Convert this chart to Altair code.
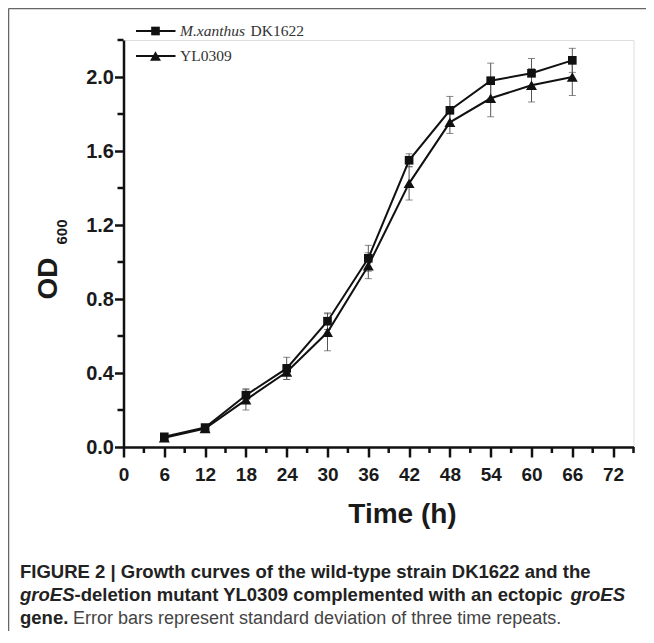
import altair as alt
import pandas as pd

# ---------------- data ----------------
hours = [6, 12, 18, 24, 30, 36, 42, 48, 54, 60, 66]
series_names = ["M.xanthus DK1622", "YL0309"]
dk1622_od = [0.055, 0.105, 0.28, 0.425, 0.68, 1.02, 1.55, 1.82, 1.98, 2.02, 2.09]
dk1622_sd = [0.01, 0.015, 0.035, 0.06, 0.045, 0.07, 0.035, 0.075, 0.095, 0.08, 0.065]
yl0309_od = [0.05, 0.10, 0.255, 0.405, 0.62, 0.98, 1.425, 1.755, 1.885, 1.955, 2.0]
yl0309_sd = [0.01, 0.015, 0.055, 0.04, 0.10, 0.07, 0.09, 0.06, 0.10, 0.09, 0.10]

x_major_ticks = [0, 6, 12, 18, 24, 30, 36, 42, 48, 54, 60, 66, 72]
x_minor_ticks = [3, 9, 15, 21, 27, 33, 39, 45, 51, 57, 63, 69, 75]
y_major_ticks = [0.0, 0.4, 0.8, 1.2, 1.6, 2.0]
y_minor_ticks = [0.2, 0.6, 1.0, 1.4, 1.8, 2.2]

x_title = "Time (h)"
y_title_main = "OD"
y_title_sub = "600"
caption_line1 = "FIGURE 2 | Growth curves of the wild-type strain DK1622 and the"
caption_line2_italic = "groES"
caption_line2_mid = "-deletion mutant YL0309 complemented with an ectopic"
caption_line3_bold = "gene."
caption_line3_rest = "Error bars represent standard deviation of three time repeats."

rows = []
for name, ods, sds in [(series_names[0], dk1622_od, dk1622_sd),
                       (series_names[1], yl0309_od, yl0309_sd)]:
    for t, v, s in zip(hours, ods, sds):
        rows.append({"series": name, "time": t, "od": v, "lo": v - s, "hi": v + s})
df = pd.DataFrame(rows)
x_minor_df = pd.DataFrame({"v": x_minor_ticks})
y_minor_df = pd.DataFrame({"v": y_minor_ticks})

SANS = "Liberation Sans"
SERIF = "Liberation Serif"
INK = "#111111"
PLOT_W, PLOT_H = 510, 407

x_scale = alt.Scale(domain=[0, 75], nice=False, zero=False)
y_scale = alt.Scale(domain=[0, 2.2], nice=False, zero=False)

common_axis = dict(
    domainColor=INK, domainWidth=2.5, tickColor=INK, tickWidth=2.5,
    labelFont=SANS, labelFontWeight="bold", labelColor="#1a1a1a",
    grid=False, labelFlush=False, labelOverlap=False,
)

x_axis = alt.Axis(
    orient="bottom", values=x_major_ticks, tickSize=10,
    labelPadding=8, labelFontSize=19, format="d",
    title=x_title, titleFont=SANS, titleFontSize=28, titleFontWeight="bold",
    titleColor="#1a1a1a", titleX=278.5, titleY=75, titleAlign="center",
    titleBaseline="alphabetic", titleAnchor="start", **common_axis,
)
y_axis = alt.Axis(
    orient="left", values=y_major_ticks, tickSize=9,
    labelPadding=1, labelFontSize=20, format=".1f",
    title=y_title_main, titleFont=SANS, titleFontSize=28, titleFontWeight="bold",
    titleColor="#1a1a1a", titleX=-67.5, titleY=238, titleAngle=270,
    titleAlign="center", titleBaseline="alphabetic", titleAnchor="start",
    **common_axis,
)

base = alt.Chart(df)

err_rule = base.mark_rule(color="#555555", strokeWidth=1).encode(
    x=alt.X("time:Q", scale=x_scale, axis=x_axis),
    y=alt.Y("lo:Q", scale=y_scale, axis=y_axis),
    y2="hi:Q",
)
cap_lo = base.mark_tick(orient="horizontal", size=7, thickness=1, color="#555555").encode(
    x=alt.X("time:Q", scale=x_scale, axis=None),
    y=alt.Y("lo:Q", scale=y_scale, axis=None),
)
cap_hi = base.mark_tick(orient="horizontal", size=7, thickness=1, color="#555555").encode(
    x=alt.X("time:Q", scale=x_scale, axis=None),
    y=alt.Y("hi:Q", scale=y_scale, axis=None),
)
lines = base.mark_line(color=INK, strokeWidth=2).encode(
    x=alt.X("time:Q", scale=x_scale, axis=None),
    y=alt.Y("od:Q", scale=y_scale, axis=None),
    detail="series:N",
)
pts_sq = base.transform_filter(alt.datum.series == series_names[0]).mark_point(
    shape="square", filled=True, color=INK, opacity=1, size=75
).encode(
    x=alt.X("time:Q", scale=x_scale, axis=None),
    y=alt.Y("od:Q", scale=y_scale, axis=None),
)
pts_tri = base.transform_filter(alt.datum.series == series_names[1]).mark_point(
    shape="triangle-up", filled=True, color=INK, opacity=1, size=120
).encode(
    x=alt.X("time:Q", scale=x_scale, axis=None),
    y=alt.Y("od:Q", scale=y_scale, axis=None),
)

# minor ticks, placed through the same scales
x_minor = alt.Chart(x_minor_df).mark_tick(
    orient="vertical", size=6, thickness=2.5, color=INK, opacity=1
).encode(
    x=alt.X("v:Q", scale=x_scale, axis=None),
    y=alt.value(PLOT_H + 3),
)
y_minor = alt.Chart(y_minor_df).mark_tick(
    orient="horizontal", size=6, thickness=2.5, color=INK, opacity=1
).encode(
    y=alt.Y("v:Q", scale=y_scale, axis=None),
    x=alt.value(-3),
)

one = pd.DataFrame({"k": [0]})


def txt(text, x, y, size, weight="normal", style="normal", font=SANS,
        color="#222222", align="left", baseline="alphabetic", angle=0):
    return alt.Chart(one).mark_text(
        text=text, font=font, fontSize=size, fontWeight=weight, fontStyle=style,
        color=color, align=align, baseline=baseline, angle=angle,
    ).encode(x=alt.value(x), y=alt.value(y))


def hrule(x1, x2, y, color, width):
    return alt.Chart(one).mark_rule(color=color, strokeWidth=width).encode(
        x=alt.value(x1), x2=alt.value(x2), y=alt.value(y))


def vrule(x, y1, y2, color, width):
    return alt.Chart(one).mark_rule(color=color, strokeWidth=width).encode(
        x=alt.value(x), y=alt.value(y1), y2=alt.value(y2))


def legend_point(shape, size, x, y):
    return alt.Chart(one).mark_point(shape=shape, filled=True, color=INK,
                                     opacity=1, size=size).encode(
        x=alt.value(x), y=alt.value(y))


# y-title subscript
sub = txt(y_title_sub, -56.5, 192, 15, weight="bold", color="#1a1a1a",
          align="center", angle=270)

# legend
leg_y1, leg_y2 = -9, 16
legend_layers = [
    hrule(12.5, 52, leg_y1, INK, 2),
    legend_point("square", 75, 32, leg_y1),
    txt(series_names[0].split(" ")[0], 56.5, leg_y1, 15.5, style="italic",
        font=SERIF, color="#333333", baseline="middle"),
    txt(series_names[0].split(" ")[1], 127, leg_y1, 15.5, font=SERIF,
        color="#333333", baseline="middle"),
    hrule(12.5, 52, leg_y2, INK, 2),
    legend_point("triangle-up", 120, 32, leg_y2),
    txt(series_names[1], 56.5, leg_y2, 15.5, font=SERIF, color="#333333",
        baseline="middle"),
]

# caption
cap_x = -103.5
caption_layers = [
    txt(caption_line1, cap_x, 538, 18.5, weight="bold"),
    txt(caption_line2_italic, cap_x, 561, 18.5, weight="bold", style="italic"),
    txt(caption_line2_mid, cap_x + 54.5, 561, 18.5, weight="bold"),
    txt(caption_line2_italic, 447, 561, 18.5, weight="bold", style="italic"),
    txt(caption_line3_bold, cap_x, 584, 18.5, weight="bold"),
    txt(caption_line3_rest, -50.5, 584, 18, color="#444444"),
]

# frame
frame_layers = [
    hrule(-115, 540, -31.5, "#666666", 1.5),
    vrule(-115, -31.5, 610, "#666666", 1.5),
]

chart = alt.layer(
    err_rule, cap_lo, cap_hi, lines, pts_sq, pts_tri, x_minor, y_minor,
    sub, *legend_layers, *caption_layers, *frame_layers,
).resolve_axis(x="independent", y="independent").properties(
    width=PLOT_W, height=PLOT_H,
    autosize=alt.AutoSizeParams(type="none"),
    padding={"left": 115.5, "top": 32, "right": 12, "bottom": 184},
).configure_view(stroke=None).configure(background="white")

chart.save("out.html", embed_options={"renderer": "svg", "actions": False})
